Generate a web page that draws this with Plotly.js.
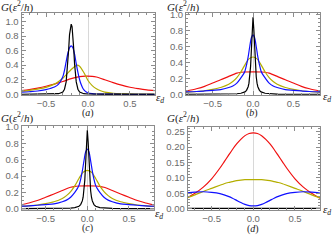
<!DOCTYPE html>
<html><head><meta charset="utf-8">
<script src="https://cdn.plot.ly/plotly-3.0.1.min.js"></script>
<style>html,body{margin:0;padding:0;background:#fff;}#chart{width:332px;height:242px;}</style>
</head><body><div id="chart"></div>
<script>
// ---------- panel (a) ----------
const aX_red = [-0.8,-0.7,-0.6,-0.5,-0.4,-0.3,-0.2,-0.1,-0.03,0.05,0.1,0.2,0.3,0.4,0.5,0.6,0.7,0.8];
const aY_red = [0.05,0.065,0.085,0.11,0.14,0.175,0.215,0.243,0.25,0.247,0.237,0.2,0.16,0.125,0.097,0.078,0.062,0.05];
const aX_yel = [-0.8,-0.7,-0.6,-0.5,-0.4,-0.35,-0.3,-0.25,-0.2,-0.15,-0.13,-0.1,-0.05,0,0.05,0.1,0.15,0.2,0.3,0.4,0.5,0.6,0.8];
const aY_yel = [0.042,0.055,0.072,0.095,0.14,0.175,0.22,0.28,0.34,0.39,0.40,0.385,0.3,0.19,0.12,0.075,0.048,0.03,0.014,0.008,0.005,0.003,0.002];
const aX_blue = [-0.8,-0.7,-0.6,-0.5,-0.45,-0.4,-0.35,-0.3,-0.28,-0.26,-0.24,-0.22,-0.2,-0.18,-0.16,-0.14,-0.12,-0.1,-0.08,-0.06,-0.04,-0.02,0,0.05,0.1,0.2,0.4,0.8];
const aY_blue = [0.028,0.035,0.045,0.065,0.08,0.1,0.14,0.24,0.33,0.45,0.56,0.64,0.665,0.64,0.55,0.42,0.3,0.2,0.13,0.08,0.05,0.03,0.018,0.008,0.004,0.002,0.001,0];
const aX_black = [-0.8,-0.5,-0.4,-0.35,-0.3,-0.28,-0.26,-0.24,-0.23,-0.22,-0.21,-0.2,-0.19,-0.18,-0.17,-0.16,-0.14,-0.12,-0.1,-0.05,0,0.2,0.5,0.8];
const aY_black = [0.001,0.002,0.004,0.008,0.03,0.07,0.17,0.42,0.62,0.82,0.93,0.963,0.93,0.82,0.62,0.42,0.17,0.07,0.03,0.008,0.004,0.002,0.001,0.001];

// ---------- panel (b) ----------
const bX_red = [-0.83,-0.7,-0.6,-0.5,-0.4,-0.3,-0.2,-0.15,-0.1,0,0.1,0.15,0.2,0.3,0.4,0.5,0.6,0.7,0.83];
const bY_red = [0.04,0.07,0.1,0.142,0.182,0.225,0.265,0.277,0.28,0.281,0.28,0.277,0.265,0.225,0.182,0.142,0.1,0.07,0.04];
const bX_yel = [-0.83,-0.7,-0.6,-0.5,-0.4,-0.3,-0.25,-0.2,-0.15,-0.1,-0.05,0,0.05,0.1,0.15,0.2,0.25,0.3,0.4,0.5,0.6,0.7,0.83];
const bY_yel = [0.025,0.035,0.045,0.062,0.085,0.125,0.16,0.21,0.28,0.37,0.445,0.468,0.445,0.37,0.28,0.21,0.16,0.125,0.085,0.062,0.045,0.035,0.025];
const bX_blue = [-0.83,-0.7,-0.6,-0.5,-0.4,-0.3,-0.25,-0.2,-0.15,-0.12,-0.1,-0.08,-0.06,-0.04,-0.02,0,0.02,0.04,0.06,0.08,0.1,0.12,0.15,0.2,0.25,0.3,0.4,0.5,0.6,0.7,0.83];
const bY_blue = [0.03,0.035,0.042,0.05,0.058,0.085,0.105,0.14,0.205,0.25,0.29,0.37,0.47,0.6,0.71,0.747,0.71,0.6,0.47,0.37,0.29,0.25,0.205,0.14,0.105,0.085,0.058,0.05,0.042,0.035,0.03];
const bX_black = [-0.83,-0.5,-0.3,-0.2,-0.15,-0.1,-0.08,-0.06,-0.05,-0.04,-0.03,-0.02,-0.01,0,0.01,0.02,0.03,0.04,0.05,0.06,0.08,0.1,0.15,0.2,0.3,0.5,0.83];
const bY_black = [0.0005,0.001,0.003,0.007,0.013,0.03,0.05,0.095,0.14,0.22,0.35,0.56,0.82,0.967,0.82,0.56,0.35,0.22,0.14,0.095,0.05,0.03,0.013,0.007,0.003,0.001,0.0005];

// ---------- panel (c) ----------
const cX_red = [-0.8,-0.7,-0.6,-0.5,-0.4,-0.3,-0.2,-0.15,-0.1,0,0.1,0.15,0.2,0.3,0.4,0.5,0.6,0.7,0.8];
const cY_red = [0.045,0.07,0.1,0.14,0.18,0.222,0.262,0.274,0.278,0.279,0.278,0.274,0.262,0.222,0.18,0.14,0.1,0.07,0.045];
const cX_yel = [-0.8,-0.7,-0.6,-0.5,-0.4,-0.3,-0.25,-0.2,-0.15,-0.1,-0.05,0,0.05,0.1,0.15,0.2,0.25,0.3,0.4,0.5,0.6,0.7,0.8];
const cY_yel = [0.027,0.035,0.045,0.062,0.085,0.125,0.16,0.21,0.28,0.37,0.445,0.468,0.445,0.37,0.28,0.21,0.16,0.125,0.085,0.062,0.045,0.035,0.027];
const cX_blue = [-0.8,-0.7,-0.6,-0.5,-0.4,-0.3,-0.25,-0.2,-0.15,-0.12,-0.1,-0.08,-0.06,-0.04,-0.02,0,0.02,0.04,0.06,0.08,0.1,0.12,0.15,0.2,0.25,0.3,0.4,0.5,0.6,0.7,0.8];
const cY_blue = [0.03,0.035,0.042,0.05,0.058,0.085,0.105,0.14,0.2,0.245,0.285,0.36,0.46,0.585,0.695,0.728,0.695,0.585,0.46,0.36,0.285,0.245,0.2,0.14,0.105,0.085,0.058,0.05,0.042,0.035,0.03];
const cX_black = [-0.8,-0.5,-0.3,-0.2,-0.15,-0.1,-0.08,-0.06,-0.05,-0.04,-0.03,-0.02,-0.01,0,0.01,0.02,0.03,0.04,0.05,0.06,0.08,0.1,0.15,0.2,0.3,0.5,0.8];
const cY_black = [0.0005,0.001,0.003,0.007,0.013,0.03,0.05,0.095,0.14,0.22,0.35,0.56,0.82,0.96,0.82,0.56,0.35,0.22,0.14,0.095,0.05,0.03,0.013,0.007,0.003,0.001,0.0005];

// ---------- panel (d) ----------
const dX = [-0.8,-0.7,-0.6,-0.5,-0.4,-0.35,-0.3,-0.25,-0.2,-0.15,-0.1,-0.05,0,0.05,0.1,0.15,0.2,0.25,0.3,0.35,0.4,0.5,0.6,0.7,0.8];
const dY_red = [0.034,0.05,0.07,0.097,0.132,0.152,0.172,0.192,0.21,0.225,0.237,0.244,0.246,0.244,0.237,0.225,0.21,0.192,0.172,0.152,0.132,0.097,0.07,0.05,0.034];
const dY_yel = [0.035,0.045,0.056,0.066,0.076,0.081,0.085,0.088,0.091,0.093,0.094,0.094,0.094,0.094,0.094,0.093,0.091,0.088,0.085,0.081,0.076,0.066,0.056,0.045,0.035];
const dY_blue = [0.051,0.054,0.055,0.053,0.049,0.045,0.04,0.034,0.027,0.02,0.014,0.01,0.009,0.01,0.014,0.02,0.027,0.034,0.04,0.045,0.049,0.053,0.055,0.054,0.051];
const dY_black = [0.001,0.001,0.001,0.001,0.001,0.001,0.001,0.001,0.001,0.001,0.001,0.001,0.001,0.001,0.001,0.001,0.001,0.001,0.001,0.001,0.001,0.001,0.001,0.001,0.001];

const RED = '#f01010', YEL = '#b4ae00', BLUE = '#1010ff', BLACK = '#000000';

function tr(x, y, color, ax, smooth) {
  return {x: x, y: y, type: 'scatter', mode: 'lines', xaxis: 'x' + ax, yaxis: 'y' + ax,
    line: {color: color, width: 1.2, shape: smooth ? 'spline' : 'linear', smoothing: 0.8},
    hoverinfo: 'skip'};
}

const data = [
  tr(aX_red, aY_red, RED, '', true), tr(aX_yel, aY_yel, YEL, '', true), tr(aX_blue, aY_blue, BLUE, '', true), tr(aX_black, aY_black, BLACK, '', false),
  tr(bX_red, bY_red, RED, '2', true), tr(bX_yel, bY_yel, YEL, '2', true), tr(bX_blue, bY_blue, BLUE, '2', true), tr(bX_black, bY_black, BLACK, '2', false),
  tr(cX_red, cY_red, RED, '3', true), tr(cX_yel, cY_yel, YEL, '3', true), tr(cX_blue, cY_blue, BLUE, '3', true), tr(cX_black, cY_black, BLACK, '3', false),
  tr(dX, dY_red, RED, '4', true), tr(dX, dY_yel, YEL, '4', true), tr(dX, dY_blue, BLUE, '4', true), tr(dX, dY_black, BLACK, '4', false)
];

const W = 332, H = 242;
const FR = '#8c8c8c';
const tickFont = {family: 'Liberation Sans, Arial, sans-serif', size: 9.5, color: '#6a6a6a'};
function px(a, b) { return [a / W, b / W]; }
function py(top, bottom) { return [1 - bottom / H, 1 - top / H]; }
function xa(dom, rng, anchor) {
  return {domain: dom, range: rng, anchor: anchor, showline: true, linecolor: FR, linewidth: 1, mirror: 'ticks',
    ticks: 'inside', ticklen: 4, tickcolor: FR, tickwidth: 1, tickvals: [-0.5, 0, 0.5], ticktext: ['\u22120.5', '0.0', '0.5'],
    showgrid: false, zeroline: true, zerolinecolor: '#d8d8d8', zerolinewidth: 1, tickfont: tickFont,
    minor: {ticks: 'inside', ticklen: 2, tickcolor: FR, dtick: 0.1, showgrid: false}};
}
function ya(dom, rng, anchor, vals, txt, mdt) {
  return {domain: dom, range: rng, anchor: anchor, showline: true, linecolor: FR, linewidth: 1, mirror: 'ticks',
    ticks: 'inside', ticklen: 4, tickcolor: FR, tickwidth: 1, tickvals: vals, ticktext: txt,
    showgrid: false, zeroline: false, tickfont: tickFont,
    minor: {ticks: 'inside', ticklen: 2, tickcolor: FR, dtick: mdt, showgrid: false}};
}
const yv1 = [0, 0.2, 0.4, 0.6, 0.8, 1.0], yt1 = ['0.0', '0.2', '0.4', '0.6', '0.8', '1.0'];
const yv4 = [0, 0.05, 0.1, 0.15, 0.2, 0.25], yt4 = ['0.00', '0.05', '0.10', '0.15', '0.20', '0.25'];

const serif = {family: 'Liberation Serif, Times New Roman, serif', size: 11, color: '#222'};
function ann(text, x, y, size) {
  return {text: text, xref: 'paper', yref: 'paper', x: x / W, y: 1 - y / H, xanchor: 'center', yanchor: 'middle',
    showarrow: false, font: Object.assign({}, serif, {size: size})};
}
const G = '<i>G</i>(<i>\u03b5</i><sup>2</sup>/<i>h</i>)';
const ED = '<i>\u03b5</i><sub><i>d</i></sub>';

const layout = {
  width: W, height: H, margin: {l: 0, r: 0, t: 0, b: 0}, paper_bgcolor: '#fff', plot_bgcolor: '#fff', showlegend: false,
  xaxis: xa(px(21.5, 154.5), [-0.792, 0.792], 'y'),
  yaxis: ya(py(12.7, 95), [-0.0096, 1.12], 'x', yv1, yt1, 0.05),
  xaxis2: xa(px(186, 320), [-0.83, 0.83], 'y2'),
  yaxis2: ya(py(12.7, 95), [-0.0087, 1.024], 'x2', yv1, yt1, 0.05),
  xaxis3: xa(px(21.7, 154), [-0.787, 0.80], 'y3'),
  yaxis3: ya(py(126, 210), [-0.016, 1.012], 'x3', yv1, yt1, 0.05),
  xaxis4: xa(px(187.7, 320), [-0.787, 0.80], 'y4'),
  yaxis4: ya(py(127, 210), [-0.0042, 0.265], 'x4', yv4, yt4, 0.01),
  annotations: [
    Object.assign(ann(G, 17, 6, 11)), ann(G, 183, 6, 11), ann(G, 17, 117, 11), ann(G, 183, 117, 11),
    ann(ED, 160, 98, 11), ann(ED, 327, 97, 11), ann(ED, 159, 214, 11), ann(ED, 327, 210, 11),
    ann('(<i>a</i>)', 88, 113, 10), ann('(<i>b</i>)', 252, 113, 10), ann('(<i>c</i>)', 87, 228, 10), ann('(<i>d</i>)', 253, 229, 10)
  ]
};

Plotly.newPlot('chart', data, layout, {staticPlot: true, displayModeBar: false});
</script></body></html>
